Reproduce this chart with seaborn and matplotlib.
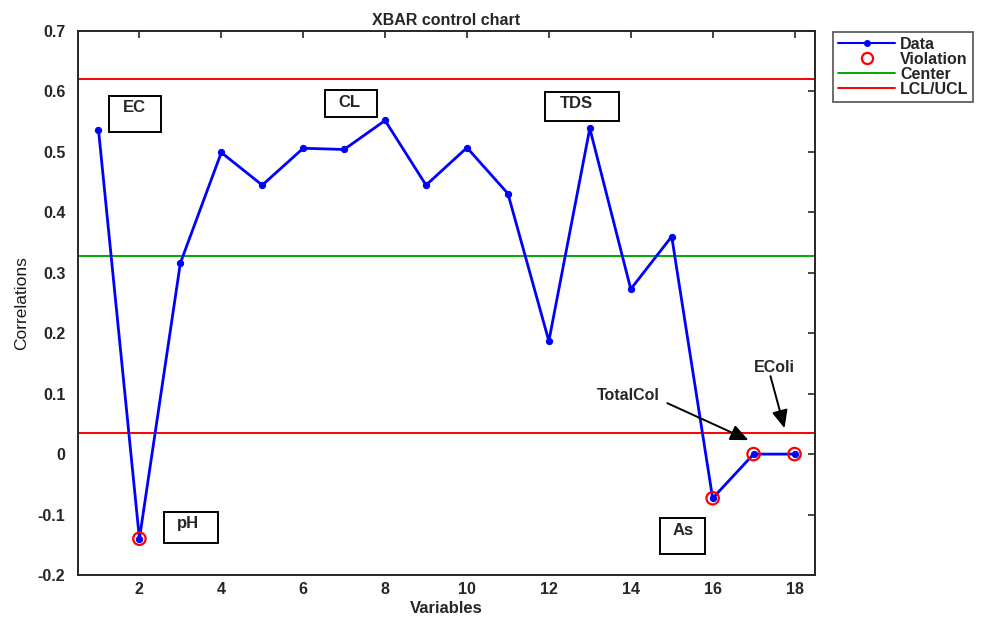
import matplotlib
matplotlib.use("Agg")
import matplotlib.pyplot as plt
from matplotlib.patches import Rectangle
from matplotlib.lines import Line2D
import seaborn as sns
import numpy as np
import pandas as pd

# ---- data ----
variables = list(range(1, 19))
correlations = [0.537, -0.140, 0.316, 0.499, 0.445, 0.506, 0.504, 0.552, 0.445,
                0.507, 0.431, 0.187, 0.539, 0.273, 0.360, -0.073, 0.0, 0.0]
violation_idx = [2, 16, 17, 18]
center = 0.327
ucl = 0.620
lcl = 0.035
x_ticks = [2, 4, 6, 8, 10, 12, 14, 16, 18]
y_ticks = [-0.2, -0.1, 0, 0.1, 0.2, 0.3, 0.4, 0.5, 0.6, 0.7]
y_ticklabels = ["-0.2", "-0.1", "0", "0.1", "0.2", "0.3", "0.4", "0.5", "0.6", "0.7"]
box_labels = ["EC", "CL", "TDS", "pH", "As"]
arrow_labels = ["TotalCol", "EColi"]

sns.set_theme(style="white")
plt.rcParams['font.family'] = ['Liberation Sans', 'DejaVu Sans']

df = pd.DataFrame({"Variables": variables, "Correlations": correlations})
viol = df[df["Variables"].isin(violation_idx)]

fig = plt.figure(figsize=(9.83, 6.18), dpi=100)
ax = fig.add_axes([78/983, 1-575/618, (815-78)/983, (575-31)/618])

ax.axhline(ucl, color="#ff0000", lw=1.4, zorder=1)
ax.axhline(lcl, color="#ff0000", lw=1.4, zorder=1)
ax.axhline(center, color="#00aa00", lw=1.4, zorder=1)

sns.lineplot(data=df, x="Variables", y="Correlations", ax=ax, color="#0000ff",
             lw=2, marker="o", markersize=4.5, markeredgecolor="#0000ff",
             zorder=3, legend=False)
sns.scatterplot(data=viol, x="Variables", y="Correlations", ax=ax, s=80,
                facecolor="none", edgecolor="#ff0000", linewidth=1.6, zorder=4,
                legend=False)

ax.set_xlim(0.5, 18.5)
ax.set_ylim(-0.2, 0.7)
ax.set_xticks(x_ticks)
ax.set_yticks(y_ticks)
ax.set_yticklabels(y_ticklabels)
ax.tick_params(direction="in", length=5, width=1.2, color="#262626",
               top=True, right=True, labelsize=11.5, labelcolor="#262626")
ax.tick_params(axis="x", pad=5)
ax.tick_params(axis="y", pad=9)
for lab in ax.get_xticklabels() + ax.get_yticklabels():
    lab.set_fontweight("bold")
for s in ax.spines.values():
    s.set_visible(True)
    s.set_color("#262626")
    s.set_linewidth(1.4)

ax.set_xlabel("Variables", fontsize=12, fontweight="bold", color="#262626", labelpad=3)
ax.set_ylabel("Correlations", fontsize=12.5, color="#1a1a1a", labelpad=6,
              fontstretch="condensed")
ax.set_title("XBAR control chart", fontsize=11.5, fontweight="bold", pad=4)

# pixel -> data helpers (for annotation placement)
def px2x(px):
    return 2 + (px - 140) / 40.875

def py2y(py):
    return (453 - py) / 605.0

boxes = [  # (x0,y0,x1,y1 pixels), text center
    ((110, 95, 162, 131), (135, 106)),
    ((325, 89, 377, 116), (350, 101)),
    ((545, 91, 619, 120), (576, 102)),
    ((165, 511, 218, 542), (189, 522)),
    ((660, 517, 705, 553), (683, 529)),
]
for lab, ((x0, y0, x1, y1), (tx, ty)) in zip(box_labels, boxes):
    ax.add_patch(Rectangle((px2x(x0), py2y(y1)), px2x(x1) - px2x(x0),
                           py2y(y0) - py2y(y1), fill=True, facecolor="white",
                           edgecolor="black", lw=1.4, zorder=5))
    ax.text(px2x(tx), py2y(ty), lab, ha="center", va="center", fontsize=12,
            fontweight="bold", zorder=6)

arrows = [
    ((628, 394), (667, 402), (748, 439)),
    ((774, 366), (770, 375), (784, 427)),
]
for lab, ((tx, ty), (sx, sy), (ex, ey)) in zip(arrow_labels, arrows):
    ax.text(px2x(tx), py2y(ty), lab, ha="center", va="center", fontsize=11.5,
            fontweight="bold", zorder=6)
    ax.annotate("", xy=(px2x(ex), py2y(ey)), xytext=(px2x(sx), py2y(sy)),
                arrowprops=dict(arrowstyle="-|>,head_length=0.9,head_width=0.4",
                                color="black", lw=1.4, shrinkA=0, shrinkB=0),
                zorder=6)

handles = [
    Line2D([], [], color="#0000ff", lw=1.5, marker="o", markersize=4),
    Line2D([], [], color="none", marker="o", markersize=8, markerfacecolor="none",
           markeredgecolor="#ff0000", markeredgewidth=1.6),
    Line2D([], [], color="#00aa00", lw=1.4),
    Line2D([], [], color="#ff0000", lw=1.4),
]
leg = fig.legend(handles, ["Data", "Violation", "Center", "LCL/UCL"],
                 loc="upper left", bbox_to_anchor=(833/983, 1-32/618),
                 frameon=True, fancybox=False, edgecolor="#262626",
                 prop={"weight": "bold", "size": 11.5}, handlelength=3.6,
                 labelspacing=0.0, borderpad=0.3, handletextpad=0.3,
                 borderaxespad=0)
leg.get_frame().set_linewidth(1.2)

fig.savefig("out.png", dpi=100)
